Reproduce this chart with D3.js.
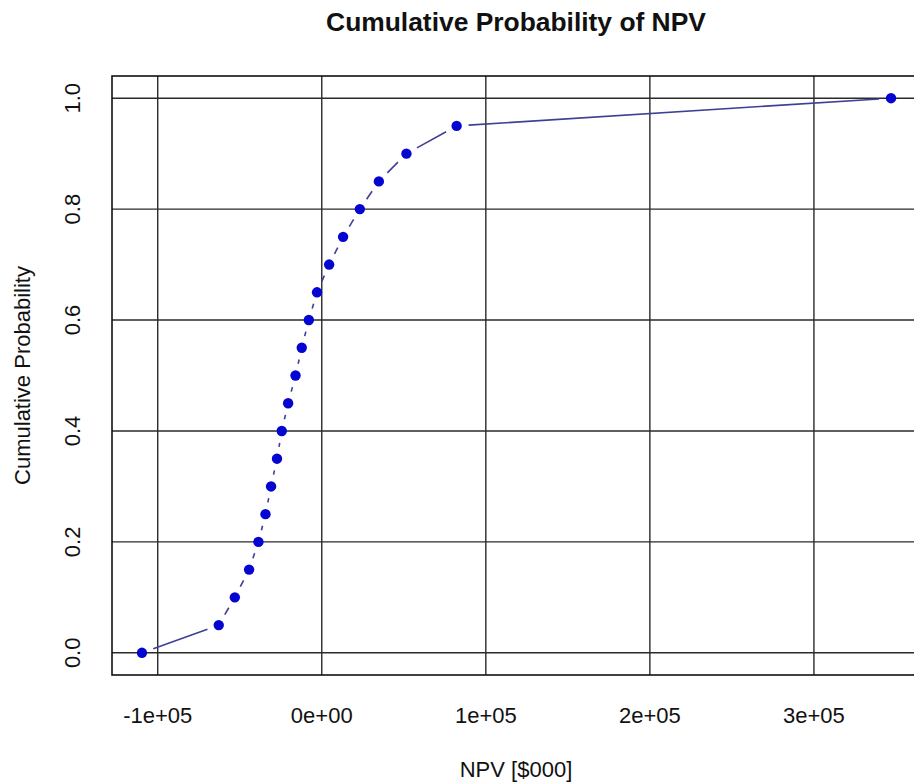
<!DOCTYPE html>
<html>
<head>
<meta charset="utf-8">
<script src="https://cdn.jsdelivr.net/npm/d3@7/dist/d3.min.js"></script>
<style>
  html, body { margin: 0; padding: 0; background: #fff; }
  svg text { font-family: "Liberation Sans", Arial, Helvetica, sans-serif; fill: #111; }
</style>
</head>
<body>
<svg id="chart" width="914" height="782"></svg>
<script>
// Data
const npv = [-109600, -62800, -53000, -44300, -38600, -34300, -30900, -27300, -24400, -20500,
             -16000, -12200, -7900, -2900, 4500, 13000, 23200, 34800, 51600, 82200, 347000];
const cumProb = [0.00, 0.05, 0.10, 0.15, 0.20, 0.25, 0.30, 0.35, 0.40, 0.45,
                 0.50, 0.55, 0.60, 0.65, 0.70, 0.75, 0.80, 0.85, 0.90, 0.95, 1.00];
const xTicks = [-100000, 0, 100000, 200000, 300000];
const xTickLabels = ["-1e+05", "0e+00", "1e+05", "2e+05", "3e+05"];
const yTicks = [0.0, 0.2, 0.4, 0.6, 0.8, 1.0];
const yTickLabels = ["0.0", "0.2", "0.4", "0.6", "0.8", "1.0"];

(function () {
const svg = d3.select("#chart");
const pLeft = 112, pTop = 76, pBottom = 675, pRight = 921;

const xmin = d3.min(npv), xmax = d3.max(npv);
const xpad = (xmax - xmin) * 0.04;
const x = d3.scaleLinear().domain([xmin - xpad, xmax + xpad]).range([pLeft, pRight]);
const y = d3.scaleLinear().domain([-0.04, 1.04]).range([pBottom, pTop]);

// grid
const grid = svg.append("g").attr("stroke", "#2a2a2a").attr("stroke-width", 1.4);
grid.selectAll("line.v").data(xTicks).enter().append("line")
  .attr("x1", d => x(d)).attr("x2", d => x(d)).attr("y1", pTop).attr("y2", pBottom);
grid.selectAll("line.h").data(yTicks).enter().append("line")
  .attr("x1", pLeft).attr("x2", pRight).attr("y1", d => y(d)).attr("y2", d => y(d));

// box
svg.append("rect").attr("x", pLeft).attr("y", pTop)
  .attr("width", pRight - pLeft).attr("height", pBottom - pTop)
  .attr("fill", "none").attr("stroke", "#111").attr("stroke-width", 1.6);

// x tick labels
svg.append("g").selectAll("text").data(xTicks).enter().append("text")
  .attr("x", d => x(d)).attr("y", 723)
  .attr("text-anchor", "middle").attr("font-size", 22)
  .text((d, i) => xTickLabels[i]);

// y tick labels (rotated)
svg.append("g").selectAll("text").data(yTicks).enter().append("text")
  .attr("transform", d => `translate(80,${y(d)}) rotate(-90)`)
  .attr("text-anchor", "middle").attr("font-size", 22)
  .text((d, i) => yTickLabels[i]);

// line segments with gaps (type = "b")
const pts = npv.map((v, i) => [x(v), y(cumProb[i])]);
const gap = 12;
const segs = [];
for (let i = 0; i < pts.length - 1; i++) {
  const [x0, y0] = pts[i], [x1, y1] = pts[i + 1];
  const dx = x1 - x0, dy = y1 - y0, len = Math.hypot(dx, dy);
  if (len > 2 * gap) {
    const ux = dx / len, uy = dy / len;
    segs.push([[x0 + ux * gap, y0 + uy * gap], [x1 - ux * gap, y1 - uy * gap]]);
  }
}
const lineGen = d3.line();
svg.append("g").selectAll("path").data(segs).enter().append("path")
  .attr("d", d => lineGen(d))
  .attr("fill", "none").attr("stroke", "#3f3f95").attr("stroke-width", 1.6);

// points
svg.append("g").selectAll("circle").data(npv).enter().append("circle")
  .attr("cx", d => x(d)).attr("cy", (d, i) => y(cumProb[i]))
  .attr("r", 5.2).attr("fill", "#0505d2");

// title
svg.append("text").attr("x", 516).attr("y", 31)
  .attr("text-anchor", "middle").attr("font-size", 26.4).attr("font-weight", "bold")
  .text("Cumulative Probability of NPV");

// axis labels
svg.append("text").attr("x", 516).attr("y", 777)
  .attr("text-anchor", "middle").attr("font-size", 22)
  .text("NPV [$000]");
svg.append("text").attr("transform", `translate(29.5,${(pTop + pBottom) / 2}) rotate(-90)`)
  .attr("text-anchor", "middle").attr("font-size", 22)
  .text("Cumulative Probability");
})();
</script>
</body>
</html>
